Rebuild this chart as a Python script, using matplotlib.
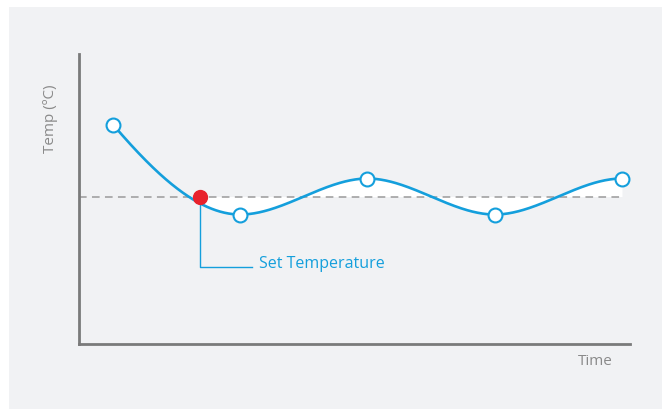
import numpy as np
import matplotlib.pyplot as plt

# data
times = [1, 2, 3, 4, 5]
temps = [28, 18, 22, 18, 22]
slopes = [-16.5, 0, 0, 0, 0]
set_temp = 20
set_time = 1.684
label_y = 12.2

blue = '#149fdc'
grey = '#7a7a7a'


# cubic hermite through the points
def hermite(tt, xs, ys, ms):
    out = np.empty_like(tt)
    for i, t in enumerate(tt):
        k = min(int(np.searchsorted(xs, t, side='right')) - 1, len(xs) - 2)
        k = max(k, 0)
        h = xs[k + 1] - xs[k]
        s = (t - xs[k]) / h
        h00 = 2 * s**3 - 3 * s**2 + 1
        h10 = s**3 - 2 * s**2 + s
        h01 = -2 * s**3 + 3 * s**2
        h11 = s**3 - s**2
        out[i] = h00 * ys[k] + h10 * h * ms[k] + h01 * ys[k + 1] + h11 * h * ms[k + 1]
    return out


xx = np.linspace(times[0], times[-1], 600)
yy = hermite(xx, np.array(times, float), np.array(temps, float), np.array(slopes, float))

fig = plt.figure(figsize=(6.62, 4.10), dpi=100)
fig.patch.set_facecolor('white')

# grey panel behind everything
bg = fig.add_axes([9 / 662, 0, 1, 1 - 8 / 410], zorder=0)
bg.set_facecolor('#f1f2f4')
bg.set_xticks([])
bg.set_yticks([])
for s in bg.spines.values():
    s.set_visible(False)

ax = fig.add_axes([79 / 662, 65 / 410, 551 / 662, 290 / 410], zorder=1)
ax.set_facecolor('none')
ax.set_xlim(0.733, 5.063)
ax.set_ylim(3.61, 35.84)
ax.set_xticks([])
ax.set_yticks([])
for s in ['top', 'right']:
    ax.spines[s].set_visible(False)
for s in ['left', 'bottom']:
    ax.spines[s].set_color(grey)
    ax.spines[s].set_linewidth(2)

# white band between curve and set temperature
mask = xx >= set_time
ax.fill_between(xx[mask], yy[mask], set_temp, color='white', lw=0, zorder=1)

ax.plot([0.733, times[-1]], [set_temp, set_temp], color='#9a9a9a', lw=1.1,
        dashes=(5, 3.5), zorder=2)
ax.plot(xx, yy, color=blue, lw=1.9, zorder=3)
ax.plot(times, temps, 'o', ms=10, mfc='white', mec=blue, mew=1.5, zorder=4, clip_on=False)

# set temperature marker + leader line
ax.plot([set_time, set_time, 2.09], [set_temp, label_y, label_y], color=blue, lw=1, zorder=2)
ax.plot([set_time], [set_temp], 'o', ms=10, color='#e8212b', zorder=5)
ax.text(2.145, label_y, 'Set Temperature', color=blue, fontsize=11.5, family='Open Sans',
        va='baseline', ha='left')

fig.text(50 / 662, 1 - 119 / 410, 'Temp (ºC)', rotation=90, color='#8a8a8a', fontsize=11,
         family='Open Sans', ha='center', va='center')
fig.text(595 / 662, 1 - 362 / 410, 'Time', color='#8a8a8a', fontsize=11,
         family='Open Sans', ha='center', va='center')

fig.savefig('out.png', dpi=100)
